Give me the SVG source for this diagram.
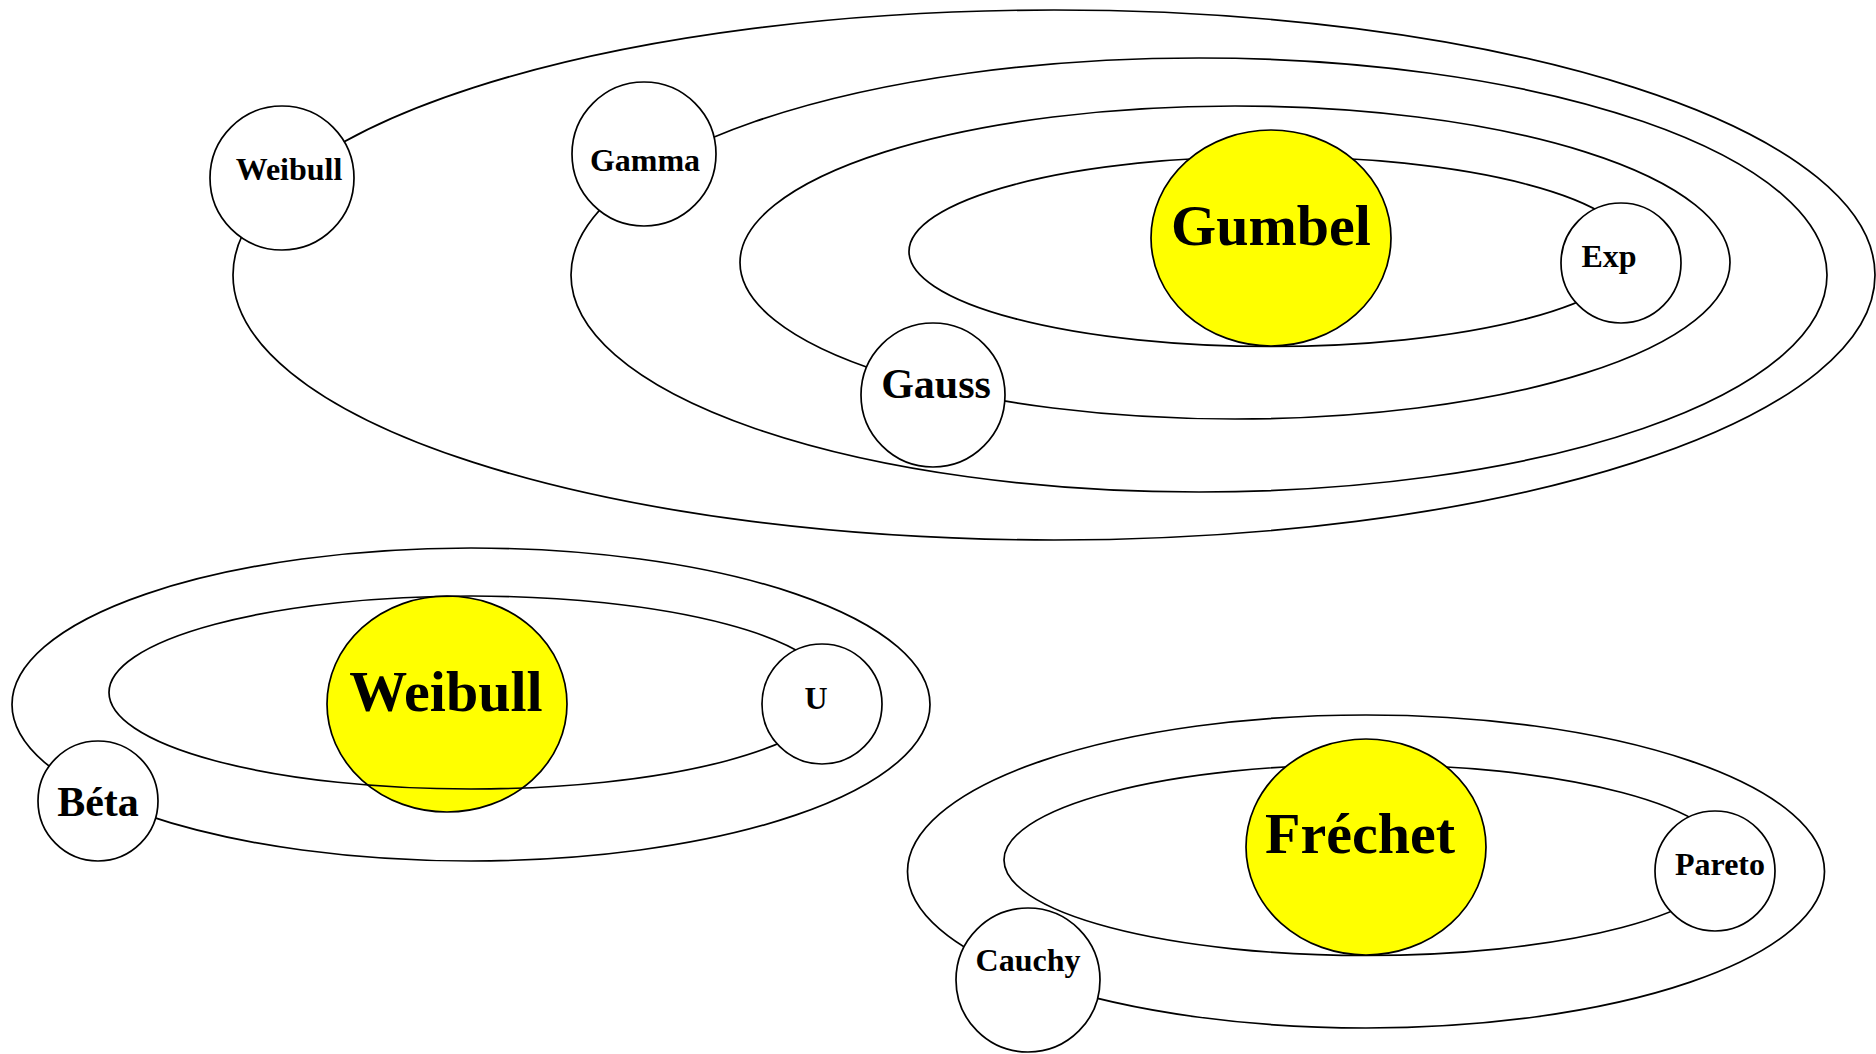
<svg xmlns="http://www.w3.org/2000/svg" width="1876" height="1054" viewBox="0 0 1876 1054">
  <style>
    .orbit { fill: none; stroke: #000; stroke-width: 1.7; }
    .sat { fill: #fff; stroke: #000; stroke-width: 1.7; }
    .core { fill: #ffff00; stroke: #000; stroke-width: 1.7; }
    text { font-family: "Liberation Serif", "Times New Roman", serif; font-weight: bold; fill: #000; text-anchor: middle; }
    .s { font-size: 32px; }
    .m { font-size: 42px; }
    .l { font-size: 58px; }
  </style>
  <rect width="1876" height="1054" fill="#fff"/>

  <g id="node-weibull-core">
    <ellipse class="core" cx="447" cy="704" rx="120" ry="108"/>
    <text class="l" x="446" y="711">Weibull</text>
  </g>

  <g id="connectors">
    <ellipse class="orbit" cx="1054" cy="275" rx="821" ry="265"/>
    <ellipse class="orbit" cx="1199" cy="275" rx="628" ry="217"/>
    <ellipse class="orbit" cx="1235" cy="262.5" rx="495" ry="156.5"/>
    <ellipse class="orbit" cx="1271" cy="251.5" rx="362" ry="95"/>
    <ellipse class="orbit" cx="471" cy="704.5" rx="459" ry="156.5"/>
    <ellipse class="orbit" cx="471" cy="692.5" rx="362" ry="96.5"/>
    <ellipse class="orbit" cx="1366" cy="871.5" rx="458.5" ry="156.5"/>
    <ellipse class="orbit" cx="1366" cy="860" rx="362" ry="95.5"/>
  </g>

  <g id="node-gumbel">
    <ellipse class="core" cx="1271" cy="238" rx="120" ry="108"/>
    <text class="l" x="1271" y="245">Gumbel</text>
  </g>
  <g id="node-frechet">
    <ellipse class="core" cx="1366" cy="847" rx="120" ry="108"/>
    <text class="l" x="1360" y="853">Fréchet</text>
  </g>

  <g id="node-weibull">
    <circle class="sat" cx="282" cy="178" r="72"/>
    <text class="s" x="289" y="180">Weibull</text>
  </g>
  <g id="node-gamma">
    <circle class="sat" cx="644" cy="154" r="72"/>
    <text class="s" x="645" y="171">Gamma</text>
  </g>
  <g id="node-gauss">
    <circle class="sat" cx="933" cy="395" r="72"/>
    <text class="m" x="936" y="398">Gauss</text>
  </g>
  <g id="node-exp">
    <circle class="sat" cx="1621" cy="263" r="60"/>
    <text class="s" x="1609" y="267">Exp</text>
  </g>
  <g id="node-u">
    <circle class="sat" cx="822" cy="704" r="60"/>
    <text class="s" x="816" y="709">U</text>
  </g>
  <g id="node-beta">
    <circle class="sat" cx="98" cy="801" r="60"/>
    <text class="m" x="98" y="816">Béta</text>
  </g>
  <g id="node-pareto">
    <circle class="sat" cx="1715" cy="871" r="60"/>
    <text class="s" x="1720" y="875">Pareto</text>
  </g>
  <g id="node-cauchy">
    <circle class="sat" cx="1028" cy="980" r="72"/>
    <text class="s" x="1028" y="971">Cauchy</text>
  </g>
</svg>
